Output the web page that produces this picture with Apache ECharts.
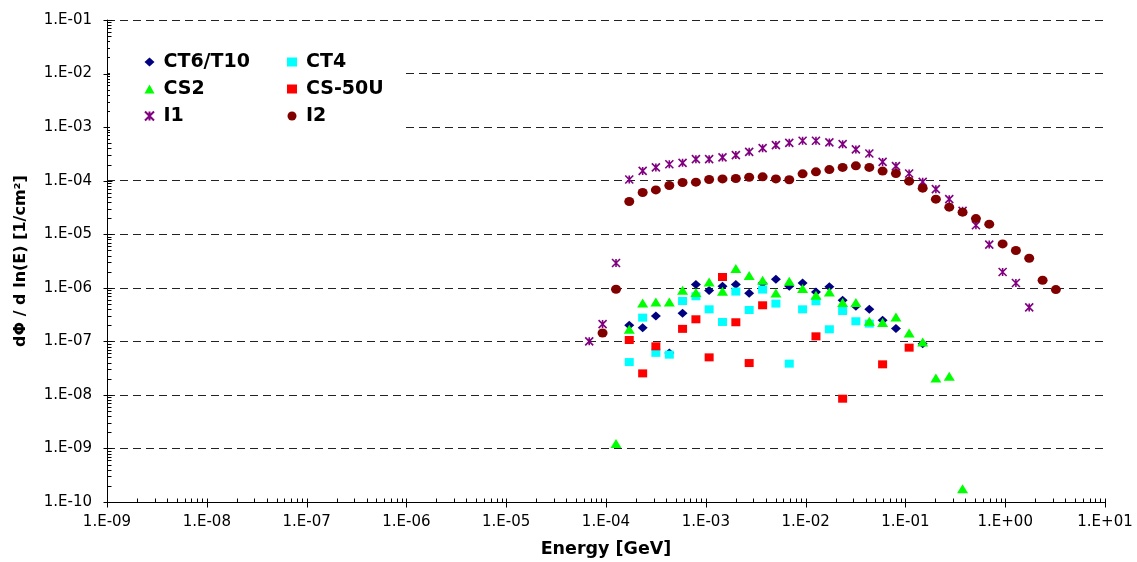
<!DOCTYPE html>
<html>
<head>
<meta charset="utf-8">
<script src="https://cdn.jsdelivr.net/npm/echarts@6/dist/echarts.min.js"></script>
<style>
  html, body { margin: 0; padding: 0; background: #fff; }
  #chart { width: 1137px; height: 562px; }
</style>
</head>
<body>
<div id="chart"></div>
<script>
// Energy bin centres [GeV]; every series below is aligned to this list (null = no point)
const energy = [6.79e-5, 9.24e-5, 1.26e-4, 1.71e-4, 2.33e-4, 3.16e-4, 4.31e-4, 5.85e-4, 7.96e-4,
  1.08e-3, 1.47e-3, 2.00e-3, 2.72e-3, 3.71e-3, 5.04e-3, 6.86e-3, 9.33e-3, 1.27e-2, 1.73e-2,
  2.35e-2, 3.19e-2, 4.35e-2, 5.91e-2, 8.04e-2, 1.09e-1, 1.49e-1, 2.02e-1, 2.75e-1, 3.74e-1,
  5.09e-1, 6.92e-1, 9.42e-1, 1.28, 1.74, 2.37, 3.22];

const ct6t10 = [null, null, null,
  1.99e-7, 1.80e-7, 2.97e-7, 6.04e-8, 3.34e-7, 1.15e-6, 8.87e-7, 1.07e-6, 1.15e-6, 7.89e-7,
  1.22e-6, 1.44e-6, 1.07e-6, 1.23e-6, 8.34e-7, 1.04e-6, 5.84e-7, 4.51e-7, 3.96e-7, 2.47e-7,
  1.73e-7, null, 9.06e-8,
  null, null, null, null, null, null, null, null, null, null];

const ct4 = [null, null, null,
  4.10e-8, 2.77e-7, 6.10e-8, 5.64e-8, 5.66e-7, 6.94e-7, 3.96e-7, 2.30e-7, 8.49e-7, 3.85e-7,
  9.25e-7, 5.07e-7, 3.83e-8, 3.96e-7, 5.60e-7, 1.68e-7, 3.68e-7, 2.37e-7, 2.14e-7,
  null, null, null, null, null, null, null, null, null, null, null, null, null, null];

const cs2 = [null, null,
  1.24e-9, 1.68e-7, 5.20e-7, 5.43e-7, 5.43e-7, 8.98e-7, 8.13e-7, 1.28e-6, 8.60e-7, 2.29e-6,
  1.69e-6, 1.38e-6, 8.00e-7, 1.32e-6, 9.66e-7, 7.24e-7, 8.34e-7, 5.29e-7, 5.29e-7, 2.37e-7,
  2.24e-7, 2.85e-7, 1.43e-7, 9.70e-8, 2.06e-8, 2.22e-8, 1.76e-10,
  null, null, null, null, null, null, null];

const cs50u = [null, null, null,
  1.06e-7, 2.52e-8, 8.07e-8, null, 1.71e-7, 2.58e-7, 5.02e-8, 1.59e-6, 2.27e-7, 3.93e-8,
  4.71e-7, null, null, null, 1.24e-7, null, 8.49e-9, null, null, 3.72e-8, null, 7.62e-8,
  null, null, null, null, null, null, null, null, null, null, null];

const i1 = [1.00e-7, 2.10e-7, 2.90e-6,
  1.05e-4, 1.52e-4, 1.77e-4, 2.03e-4, 2.15e-4, 2.52e-4, 2.52e-4, 2.72e-4, 3.00e-4, 3.45e-4,
  4.05e-4, 4.61e-4, 5.09e-4, 5.55e-4, 5.55e-4, 5.18e-4, 4.81e-4, 3.83e-4, 3.22e-4, 2.24e-4,
  1.87e-4, 1.36e-4, 9.50e-5, 6.94e-5, 4.51e-5, 2.73e-5, 1.47e-5, 6.41e-6, 1.97e-6, 1.23e-6,
  4.30e-7, null, null];

const i2 = [null, 1.43e-7, 9.40e-7,
  4.08e-5, 6.01e-5, 6.73e-5, 8.13e-5, 9.24e-5, 9.37e-5, 1.05e-4, 1.08e-4, 1.10e-4, 1.16e-4,
  1.18e-4, 1.08e-4, 1.04e-4, 1.34e-4, 1.46e-4, 1.61e-4, 1.77e-4, 1.89e-4, 1.77e-4, 1.51e-4,
  1.36e-4, 9.80e-5, 7.24e-5, 4.51e-5, 3.20e-5, 2.58e-5, 1.96e-5, 1.54e-5, 6.59e-6, 4.96e-6,
  3.56e-6, 1.38e-6, 9.25e-7];

const xTickLabels = ['1.E-09', '1.E-08', '1.E-07', '1.E-06', '1.E-05', '1.E-04',
  '1.E-03', '1.E-02', '1.E-01', '1.E+00', '1.E+01'];
const yTickLabels = ['1.E-10', '1.E-09', '1.E-08', '1.E-07', '1.E-06', '1.E-05',
  '1.E-04', '1.E-03', '1.E-02', '1.E-01'];

const X_MIN = 1e-9, X_MAX = 10, Y_MIN = 1e-10, Y_MAX = 0.1;

function points(vals) {
  const out = [];
  vals.forEach((v, i) => { if (v != null) out.push([energy[i], v]); });
  return out;
}

// Decade and sub-decade tick marks of both log axes: [x, y, kind]
// kind 0 = x minor, 1 = x major, 2 = y minor, 3 = y major
const tickMarks = [];
for (let d = -9; d <= 1; d++) {
  tickMarks.push([Math.pow(10, d), Y_MIN, 1]);
  if (d < 1) for (let m = 2; m <= 9; m++) tickMarks.push([m * Math.pow(10, d), Y_MIN, 0]);
}
for (let d = -10; d <= -1; d++) {
  tickMarks.push([X_MIN, Math.pow(10, d), 3]);
  if (d < -1) for (let m = 2; m <= 9; m++) tickMarks.push([X_MIN, m * Math.pow(10, d), 2]);
}

const FONT = 'DejaVu Sans';
const asterisk = 'path://M0,0L10,10M0,10L10,0M5,0L5,10';

function labelOf(list, offset) {
  return v => list[Math.round(Math.log10(v)) + offset] || '';
}

const chart = echarts.init(document.getElementById('chart'), null, { renderer: 'canvas' });

const legendCommon = {
  orient: 'vertical',
  top: 47,
  itemWidth: 10,
  itemHeight: 9,
  itemGap: 7,
  selectedMode: false,
  z: 6,
  textStyle: { fontFamily: FONT, fontWeight: 'bold', fontSize: 19, lineHeight: 20, color: '#000',
    padding: [0, 0, 0, 4] }
};

function marker(name, data, symbol, size, color, extra) {
  return {
    type: 'scatter', name: name, data: data, symbol: symbol, symbolSize: size,
    itemStyle: Object.assign({ color: color, opacity: 1 }, extra || {}),
    emphasis: { disabled: true }
  };
}

chart.setOption({
  animation: false,
  backgroundColor: '#fff',
  grid: { left: 107, right: 32, top: 20, bottom: 60, outerBoundsMode: 'none', containLabel: false },
  graphic: [{
    type: 'rect', z: 5, silent: true,
    shape: { x: 110, y: 38, width: 293, height: 104 },
    style: { fill: '#fff' }
  }],
  legend: [
    Object.assign({ left: 139, data: ['CT6/T10', 'CS2', 'I1'] }, legendCommon),
    Object.assign({ left: 282, data: ['CT4', 'CS-50U', 'I2'] }, legendCommon)
  ],
  xAxis: {
    type: 'log', logBase: 10, min: X_MIN, max: X_MAX, interval: 1,
    name: 'Energy [GeV]', nameLocation: 'middle', nameGap: 38,
    nameTextStyle: { fontFamily: FONT, fontWeight: 'bold', fontSize: 17.5, color: '#000' },
    axisLine: { show: true, lineStyle: { color: '#000', width: 1 } },
    axisTick: { show: false },
    minorTick: { show: false },
    axisLabel: { fontFamily: FONT, fontSize: 15, color: '#000', margin: 13,
      formatter: labelOf(xTickLabels, 9) },
    splitLine: { show: false }
  },
  yAxis: {
    type: 'log', logBase: 10, min: Y_MIN, max: Y_MAX, interval: 1,
    name: 'dΦ / d ln(E) [1/cm²]', nameLocation: 'middle', nameGap: 78, nameRotate: 90,
    nameTextStyle: { fontFamily: FONT, fontWeight: 'bold', fontSize: 16, color: '#000' },
    axisLine: { show: true, lineStyle: { color: '#000', width: 1 } },
    axisTick: { show: false },
    minorTick: { show: false },
    axisLabel: { fontFamily: FONT, fontSize: 15, color: '#000', margin: 15,
      formatter: labelOf(yTickLabels, 10) },
    splitLine: { show: true, lineStyle: { color: '#222', width: 1, type: [8, 5] } }
  },
  series: [
    {
      type: 'custom', name: 'ticks', silent: true, clip: false, z: 3,
      data: tickMarks,
      encode: { x: 0, y: 1 },
      renderItem: function (params, api) {
        const p = api.coord([api.value(0), api.value(1)]);
        const kind = api.value(2);
        const x = Math.round(p[0]) + 0.5, y = Math.round(p[1]) + 0.5;
        let s;
        if (kind === 0) s = { x1: x, y1: y - 4, x2: x, y2: y };
        else if (kind === 1) s = { x1: x, y1: y - 4, x2: x, y2: y + 5 };
        else if (kind === 2) s = { x1: x, y1: y, x2: x + 4, y2: y };
        else s = { x1: x - 4, y1: y, x2: x + 5, y2: y };
        return { type: 'line', shape: s, style: { stroke: '#000', lineWidth: 1 } };
      }
    },
    marker('CT6/T10', points(ct6t10), 'diamond', [10, 9], '#000080'),
    marker('CT4', points(ct4), 'rect', [9, 8], '#00FFFF'),
    marker('CS2', points(cs2), 'triangle', [11, 9], '#00FF00'),
    marker('CS-50U', points(cs50u), 'rect', [9, 8], '#FF0000'),
    marker('I1', points(i1), asterisk, [8, 8], '#800080',
      { borderColor: '#800080', borderWidth: 1.6 }),
    marker('I2', points(i2), 'circle', [10, 9], '#800000')
  ]
});
</script>
</body>
</html>
